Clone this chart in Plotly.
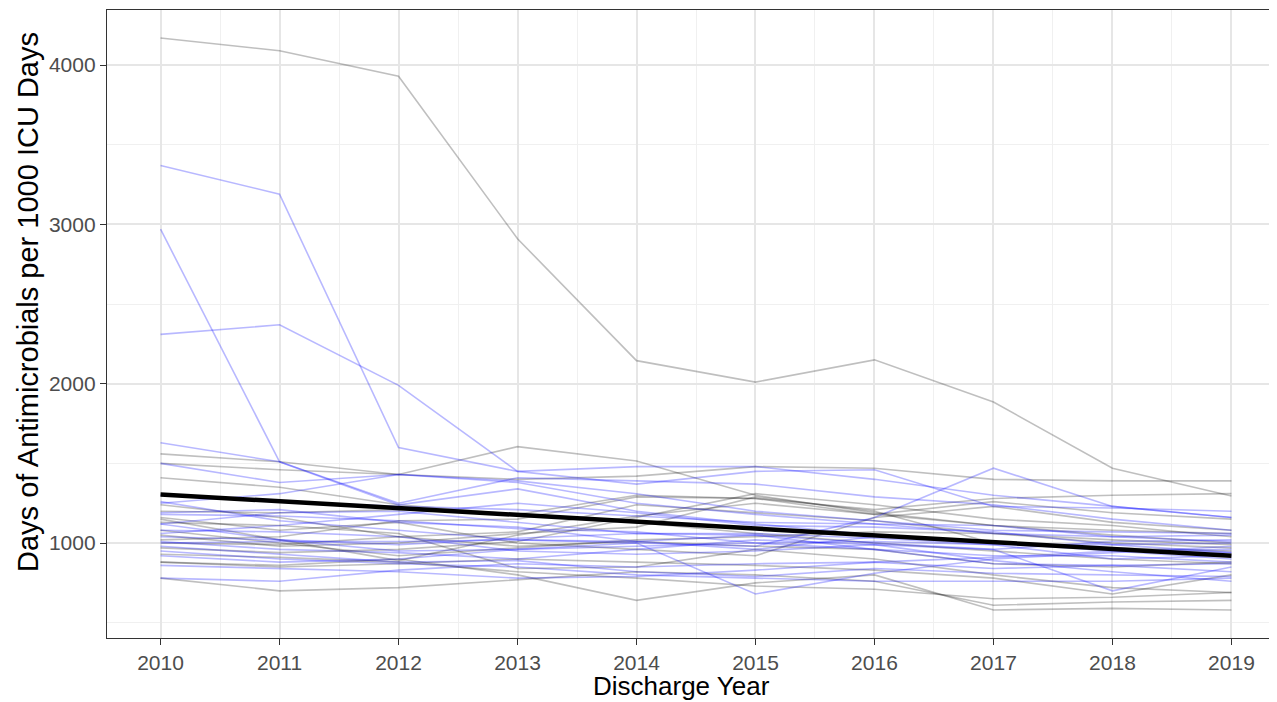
import plotly.graph_objects as go

years = [2010, 2011, 2012, 2013, 2014, 2015, 2016, 2017, 2018, 2019]

gray_series = [
    [4170, 4090, 3930, 2910, 2145, 2010, 2150, 1885, 1470, 1295],
    [1560, 1510, 1430, 1605, 1515, 1300, 1190, 1110, 1050, 1000],
    [1500, 1460, 1430, 1400, 1420, 1480, 1470, 1400, 1390, 1390],
    [1410, 1350, 1240, 1180, 1300, 1280, 1210, 1280, 1300, 1310],
    [1150, 1020, 890, 1050, 1170, 1250, 1180, 1110, 1080, 1060],
    [1160, 1080, 1130, 1000, 960, 920, 1160, 1230, 1130, 1080],
    [880, 860, 900, 800, 640, 750, 800, 580, 590, 580],
    [780, 700, 720, 770, 820, 800, 760, 610, 630, 640],
    [880, 850, 870, 900, 880, 860, 830, 780, 680, 800],
    [1050, 980, 1000, 1060, 1100, 1290, 1200, 1000, 970, 950],
    [1080, 1000, 920, 970, 1020, 1040, 1070, 1060, 1000, 970],
    [1240, 1160, 1040, 980, 1010, 980, 960, 870, 850, 880],
    [970, 940, 960, 1010, 1160, 1310, 1240, 1150, 1110, 1040],
    [1000, 990, 1040, 1070, 1240, 1190, 1140, 1060, 1020, 990],
    [1130, 1110, 1060, 840, 850, 960, 900, 800, 720, 690],
    [930, 910, 880, 820, 780, 730, 710, 650, 660, 690],
    [1020, 1040, 1140, 1150, 1290, 1280, 1180, 1260, 1190, 1150],
    [1200, 1190, 1210, 1180, 1130, 1060, 1000, 950, 900, 870],
]

blue_series = [
    [3370, 3190, 1600, 1450, 1370, 1450, 1460, 1230, 1220, 1200],
    [2970, 1510, 1240, 1340, 1200, 1120, 1050, 1000, 960, 940],
    [2310, 2370, 1990, 1450, 1480, 1480, 1400, 1300, 1230, 1160],
    [1630, 1510, 1250, 1410, 1390, 1370, 1290, 1240, 1150, 1080],
    [1500, 1380, 1430, 1380, 1250, 1180, 1120, 1060, 1040, 1010],
    [1260, 1140, 1080, 1020, 1000, 980, 1160, 1470, 1230, 1160],
    [1250, 1310, 1430, 1390, 1310, 1200, 1140, 1080, 1070, 1060],
    [1190, 1210, 1130, 1100, 1010, 960, 1040, 1000, 950, 900],
    [1120, 1020, 950, 960, 1000, 680, 810, 900, 940, 980],
    [1080, 1070, 1040, 950, 930, 950, 990, 960, 700, 850],
    [1040, 1020, 990, 1030, 1060, 1050, 960, 870, 860, 820],
    [1010, 960, 940, 900, 960, 1020, 990, 890, 820, 760],
    [980, 930, 880, 890, 820, 790, 840, 810, 800, 790],
    [950, 900, 870, 850, 800, 780, 760, 760, 760, 780],
    [1180, 1170, 1140, 1090, 1070, 1000, 960, 920, 920, 880],
    [920, 880, 900, 960, 980, 1000, 1010, 990, 900, 920],
    [1060, 1110, 1180, 1250, 1190, 1110, 1100, 1070, 990, 940],
    [780, 760, 830, 870, 850, 870, 880, 840, 860, 870],
    [1000, 1010, 1010, 1020, 1010, 1050, 1000, 960, 1010, 1020],
    [1120, 1190, 1200, 1130, 1060, 1060, 1030, 990, 990, 1000],
    [860, 840, 820, 780, 790, 830, 880, 910, 950, 960],
    [1300, 1260, 1230, 1210, 1170, 1130, 1120, 1110, 1040, 1050],
]

trend_years = [2010, 2019]
trend_values = [1305, 920]

y_ticks = [1000, 2000, 3000, 4000]
x_ticks = years

fig = go.Figure()

for s in gray_series:
    fig.add_trace(go.Scatter(x=years, y=s, mode="lines",
                             line=dict(color="rgba(0,0,0,0.25)", width=1.6),
                             showlegend=False, hoverinfo="skip"))
for s in blue_series:
    fig.add_trace(go.Scatter(x=years, y=s, mode="lines",
                             line=dict(color="rgba(0,0,255,0.28)", width=1.6),
                             showlegend=False, hoverinfo="skip"))

fig.add_trace(go.Scatter(x=trend_years, y=trend_values, mode="lines",
                         line=dict(color="black", width=4.5),
                         showlegend=False, hoverinfo="skip"))

font_family = "Liberation Sans, Arial, sans-serif"

fig.update_layout(
    width=1277, height=694,
    margin=dict(l=99, r=0, t=2, b=64, autoexpand=False),
    paper_bgcolor="white",
    plot_bgcolor="white",
    font=dict(family=font_family, color="#4d4d4d"),
    xaxis=dict(
        range=[2009.55, 2019.45],
        tickvals=x_ticks,
        ticktext=[str(v) for v in x_ticks],
        tickfont=dict(size=21, color="#4d4d4d"),
        ticks="outside", ticklen=6, tickcolor="#333333", tickwidth=1.3,
        showgrid=True, gridcolor="#e6e6e6", gridwidth=1.6,
        minor=dict(dtick=0.5, tick0=2009.5, showgrid=True, gridcolor="#f0f0f0", gridwidth=1),
        showline=True, linecolor="#333333", linewidth=1.3, mirror=True,
        zeroline=False, automargin=False,
    ),
    yaxis=dict(
        range=[404, 4346],
        tickvals=y_ticks,
        ticktext=[str(v) for v in y_ticks],
        tickfont=dict(size=21, color="#4d4d4d"),
        ticks="outside", ticklen=6, tickcolor="#333333", tickwidth=1.3,
        showgrid=True, gridcolor="#e6e6e6", gridwidth=1.6,
        minor=dict(dtick=500, tick0=500, showgrid=True, gridcolor="#f0f0f0", gridwidth=1),
        showline=True, linecolor="#333333", linewidth=1.3, mirror=False,
        zeroline=False, automargin=False,
    ),
    annotations=[
        dict(text="Days of Antimicrobials per 1000 ICU Days", xref="paper", yref="paper",
             x=-0.0671, y=0.535, xanchor="center", yanchor="middle", textangle=-90,
             showarrow=False, font=dict(size=29, color="black", family=font_family)),
        dict(text="Discharge Year", xref="paper", yref="paper",
             x=0.488, y=-0.1035, xanchor="center", yanchor="bottom",
             showarrow=False, font=dict(size=26, color="black", family=font_family)),
    ],
)

fig.write_html(
    "out.html",
    post_script="document.documentElement.style.overflow='hidden';document.body.style.overflow='hidden';",
)
